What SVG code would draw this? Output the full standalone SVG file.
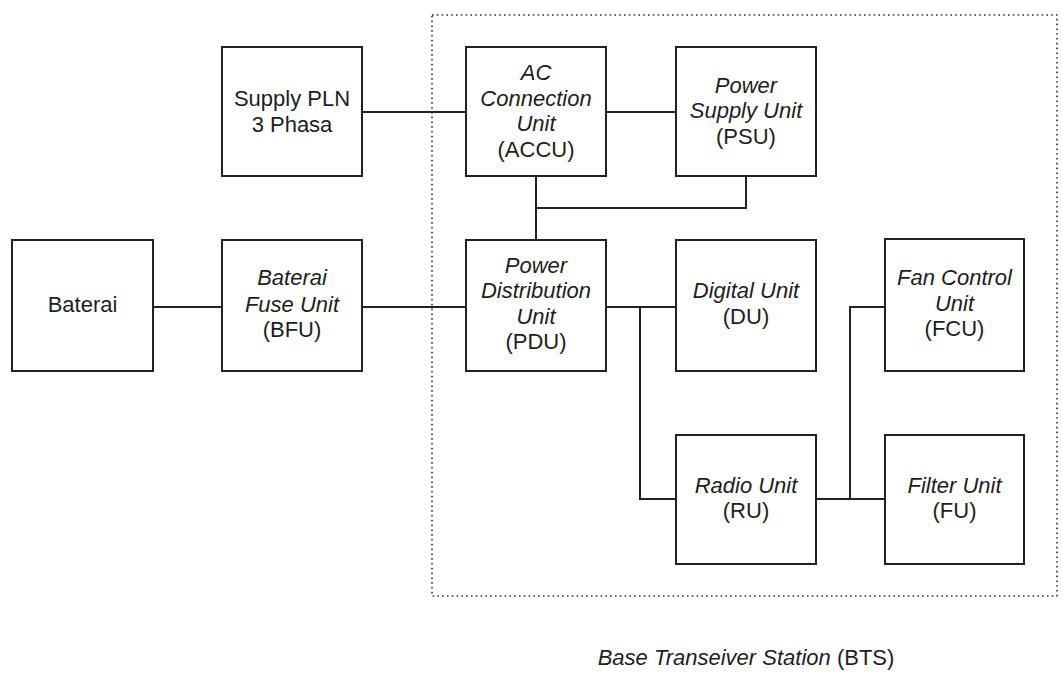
<svg xmlns="http://www.w3.org/2000/svg" width="1063" height="673" viewBox="0 0 1063 673">
<style>
.box{fill:none;stroke:#222;stroke-width:2}
.ln{fill:none;stroke:#222;stroke-width:2}
.dot{fill:none;stroke:#333;stroke-width:1.6;stroke-dasharray:1.6 3.2}
text{font-family:"Liberation Sans",Arial,sans-serif;font-size:22px;fill:#1e1e1e;text-anchor:middle}
.i{font-style:italic}
</style>
<rect width="1063" height="673" fill="#ffffff"/>
<rect id="bts-boundary" class="dot" x="432" y="15" width="625" height="581"/>
<g id="connectors">
<path class="ln" d="M362 112H466"/>
<path class="ln" d="M606 112H676"/>
<path class="ln" d="M536 176V240"/>
<path class="ln" d="M536 208H746V176"/>
<path class="ln" d="M153 307H222"/>
<path class="ln" d="M362 307H466"/>
<path class="ln" d="M606 307H676"/>
<path class="ln" d="M640 307V499H676"/>
<path class="ln" d="M816 499H885"/>
<path class="ln" d="M850 499V307H885"/>
</g>
<g id="supply-pln">
<rect class="box" x="222" y="47" width="140" height="129"/>
<text x="292" y="106">Supply PLN</text>
<text x="292" y="132">3 Phasa</text>
</g>
<g id="accu">
<rect class="box" x="466" y="47" width="140" height="129"/>
<text class="i" x="536" y="80">AC</text>
<text class="i" x="536" y="105.5">Connection</text>
<text class="i" x="536" y="131">Unit</text>
<text x="536" y="156.5">(ACCU)</text>
</g>
<g id="psu">
<rect class="box" x="676" y="47" width="140" height="129"/>
<text class="i" x="746" y="93">Power</text>
<text class="i" x="746" y="118">Supply Unit</text>
<text x="746" y="144">(PSU)</text>
</g>
<g id="baterai">
<rect class="box" x="12" y="240" width="141" height="131"/>
<text x="82.5" y="312">Baterai</text>
</g>
<g id="bfu">
<rect class="box" x="222" y="240" width="140" height="131"/>
<text class="i" x="292" y="285">Baterai</text>
<text class="i" x="292" y="311.5">Fuse Unit</text>
<text x="292" y="337">(BFU)</text>
</g>
<g id="pdu">
<rect class="box" x="466" y="240" width="140" height="131"/>
<text class="i" x="536" y="273">Power</text>
<text class="i" x="536" y="298">Distribution</text>
<text class="i" x="536" y="324">Unit</text>
<text x="536" y="349">(PDU)</text>
</g>
<g id="du">
<rect class="box" x="676" y="240" width="140" height="131"/>
<text class="i" x="746" y="298">Digital Unit</text>
<text x="746" y="324">(DU)</text>
</g>
<g id="fcu">
<rect class="box" x="885" y="239" width="139" height="132"/>
<text class="i" x="954.5" y="285">Fan Control</text>
<text class="i" x="954.5" y="310.5">Unit</text>
<text x="954.5" y="336">(FCU)</text>
</g>
<g id="ru">
<rect class="box" x="676" y="435" width="140" height="129"/>
<text class="i" x="746" y="493">Radio Unit</text>
<text x="746" y="518">(RU)</text>
</g>
<g id="fu">
<rect class="box" x="885" y="435" width="139" height="129"/>
<text class="i" x="954.5" y="493">Filter Unit</text>
<text x="954.5" y="518">(FU)</text>
</g>
<g id="caption">
<text x="746" y="665"><tspan class="i">Base Transeiver Station</tspan> (BTS)</text>
</g>
</svg>
